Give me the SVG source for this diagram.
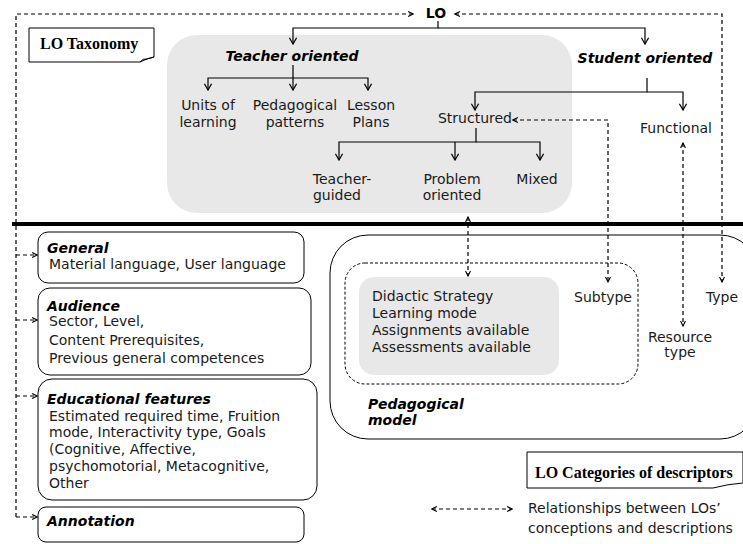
<svg xmlns="http://www.w3.org/2000/svg" width="743" height="544" viewBox="0 0 743 544">
<defs>
<style>
.t{font-family:"DejaVu Sans",Verdana,sans-serif;font-size:14px;fill:#1a1a1a}
.bi{font-family:"DejaVu Sans",Verdana,sans-serif;font-size:14px;font-weight:bold;font-style:italic;fill:#000}
.b{font-family:"DejaVu Sans",Verdana,sans-serif;font-size:14px;font-weight:bold;fill:#000}
.s{font-family:"Liberation Serif","Times New Roman",serif;font-size:16px;font-weight:bold;fill:#000}
.m{text-anchor:middle}
.box{fill:#fff;stroke:#000;stroke-width:1}
.gray{fill:#e8e8e8;stroke:none}
.sol{fill:none;stroke:#000;stroke-width:1.2}
.dash{fill:none;stroke:#000;stroke-width:1.2;stroke-dasharray:4 3}
</style>
<marker id="ar" viewBox="0 0 10 10" refX="9" refY="5" markerWidth="9" markerHeight="9" orient="auto" markerUnits="userSpaceOnUse">
<path d="M2,1 L9,5 L2,9" fill="none" stroke="#000" stroke-width="1.4"/>
</marker>
<marker id="da" viewBox="0 0 10 10" refX="9" refY="5" markerWidth="7" markerHeight="7" orient="auto-start-reverse" markerUnits="userSpaceOnUse">
<path d="M2,1.5 L9,5 L2,8.5" fill="none" stroke="#000" stroke-width="1.6"/>
</marker>
</defs>
<rect width="743" height="544" fill="#fff"/>

<g id="taxonomy-area">
<rect class="gray" x="167" y="35" width="405" height="178" rx="30"/>
</g>

<line x1="12" y1="224" x2="743" y2="224" stroke="#000" stroke-width="4"/>

<g id="pedagogical-model">
<rect x="330" y="235" width="428" height="204" rx="38" fill="none" stroke="#000" stroke-width="1"/>
<rect x="345" y="263" width="293" height="121" rx="20" fill="none" stroke="#000" stroke-width="1" stroke-dasharray="3 2"/>
<text class="bi" x="368" y="409">Pedagogical</text>
<text class="bi" x="368" y="425">model</text>
</g>

<g id="didactic">
<rect class="gray" x="359" y="277" width="200" height="98" rx="15"/>
<text class="t" x="372" y="301">Didactic Strategy</text>
<text class="t" x="372" y="318">Learning mode</text>
<text class="t" x="372" y="335">Assignments available</text>
<text class="t" x="372" y="352">Assessments available</text>
</g>

<g id="lo-taxonomy-label">
<path class="box" d="M29,28 H154 V57 Q148,58 140,62 H29 Z"/>
<path d="M140,62 Q143,58 147,59 L154,57" fill="none" stroke="#000" stroke-width="1"/>
<text class="s" x="40" y="49">LO Taxonomy</text>
</g>

<g id="lo"><text class="b m" x="436" y="18">LO</text></g>
<g id="teacher-oriented"><text class="bi m" x="292" y="61">Teacher oriented</text></g>
<g id="student-oriented"><text class="bi m" x="645" y="63">Student oriented</text></g>
<g id="units"><text class="t m" x="208" y="110">Units of</text><text class="t m" x="208" y="127">learning</text></g>
<g id="patterns"><text class="t m" x="295" y="110">Pedagogical</text><text class="t m" x="295" y="127">patterns</text></g>
<g id="lesson"><text class="t m" x="371" y="110">Lesson</text><text class="t m" x="371" y="127">Plans</text></g>
<g id="structured"><text class="t m" x="475" y="123">Structured</text></g>
<g id="functional"><text class="t m" x="676" y="133">Functional</text></g>
<g id="teacher-guided"><text class="t m" x="342" y="184">Teacher-</text><text class="t m" x="337" y="200">guided</text></g>
<g id="problem-oriented"><text class="t m" x="452" y="184">Problem</text><text class="t m" x="452" y="200">oriented</text></g>
<g id="mixed"><text class="t m" x="537" y="184">Mixed</text></g>

<g id="subtype"><text class="t m" x="603" y="302">Subtype</text></g>
<g id="type"><text class="t m" x="722" y="302">Type</text></g>
<g id="resource-type"><text class="t m" x="680" y="342">Resource</text><text class="t m" x="680" y="357">type</text></g>

<g id="general">
<rect class="box" x="38" y="232" width="266" height="51" rx="10"/>
<text class="bi" x="47" y="253">General</text>
<text class="t" x="49" y="269">Material language, User language</text>
</g>
<g id="audience">
<rect class="box" x="38" y="288" width="273" height="87" rx="12"/>
<text class="bi" x="47" y="311">Audience</text>
<text class="t" x="49" y="326">Sector, Level,</text>
<text class="t" x="49" y="345">Content Prerequisites,</text>
<text class="t" x="49" y="363">Previous general competences</text>
</g>
<g id="educational-features">
<rect class="box" x="38" y="379" width="279" height="121" rx="14"/>
<text class="bi" x="47" y="404">Educational features</text>
<text class="t" x="49" y="421">Estimated required time, Fruition</text>
<text class="t" x="49" y="437">mode, Interactivity type, Goals</text>
<text class="t" x="49" y="454">(Cognitive, Affective,</text>
<text class="t" x="49" y="471">psychomotorial, Metacognitive,</text>
<text class="t" x="49" y="488">Other</text>
</g>
<g id="annotation">
<rect class="box" x="38" y="507" width="266" height="35" rx="8"/>
<text class="bi" x="47" y="526">Annotation</text>
</g>

<g id="lo-categories-label">
<path class="box" d="M527,452 H743 V483 Q728,484 713,488 H527 Z"/>
<text class="s" x="535" y="478">LO Categories of descriptors</text>
</g>

<g id="legend">
<path class="dash" d="M432,509 H512" marker-start="url(#da)" marker-end="url(#da)"/>
<text class="t" x="528" y="513">Relationships between LOs’</text>
<text class="t" x="528" y="533">conceptions and descriptions</text>
</g>

<g id="connectors">
<path class="sol" d="M438,21 V28 H293 V44" marker-end="url(#ar)"/>
<path class="sol" d="M438,28 H645 V44" marker-end="url(#ar)"/>
<path class="sol" d="M293,65 V78 H208 V90" marker-end="url(#ar)"/>
<path class="sol" d="M293,78 V90" marker-end="url(#ar)"/>
<path class="sol" d="M293,78 H368 V90" marker-end="url(#ar)"/>
<path class="sol" d="M647,78 V92 H475 V110" marker-end="url(#ar)"/>
<path class="sol" d="M647,92 H683 V110" marker-end="url(#ar)"/>
<path class="sol" d="M476,128 V142 H339 V160" marker-end="url(#ar)"/>
<path class="sol" d="M476,142 H540 V160" marker-end="url(#ar)"/>
<path class="sol" d="M455,142 V160" marker-end="url(#ar)"/>

<path class="dash" d="M16,517 V14 H413" marker-end="url(#da)"/>
<path class="dash" d="M16,255 H37" marker-end="url(#da)"/>
<path class="dash" d="M16,320 H37" marker-end="url(#da)"/>
<path class="dash" d="M16,396 H37" marker-end="url(#da)"/>
<path class="dash" d="M16,517 H37" marker-end="url(#da)"/>
<path class="dash" d="M455,14 H722 V282" marker-start="url(#da)" marker-end="url(#da)"/>
<path class="dash" d="M513,120 H608 V282" marker-start="url(#da)" marker-end="url(#da)"/>
<path class="dash" d="M683,143 V326" marker-start="url(#da)" marker-end="url(#da)"/>
<path class="dash" d="M468,217 V276" marker-start="url(#da)" marker-end="url(#da)"/>
</g>
</svg>
